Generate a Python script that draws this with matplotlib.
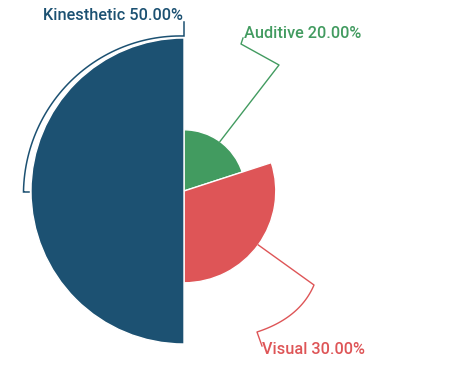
import numpy as np
import matplotlib
matplotlib.use("Agg")
import matplotlib.pyplot as plt

categories = ["Kinesthetic", "Auditive", "Visual"]
values = [50.0, 20.0, 30.0]
colors = ["#1c5172", "#429b60", "#de5557"]
labels = [f"{c} {v:.2f}%" for c, v in zip(categories, values)]

W, H = 460, 374
fig = plt.figure(figsize=(W / 100, H / 100), dpi=100)

# polar axes: centre at (184,191) px, 50 -> 153 px
cx, cy, half = 184, 191, 170
rmax = 50 * half / 153
axp = fig.add_axes([(cx - half) / W, (H - cy - half) / H, 2 * half / W, 2 * half / H],
                   projection="polar")
axp.set_theta_zero_location("N")
axp.set_theta_direction(-1)
axp.set_ylim(0, rmax)
axp.axis("off")

# Order clockwise from top: Auditive, Visual, Kinesthetic
order = [1, 2, 0]
total = sum(values)
start = 0.0
mids = {}
for i in order:
    w = values[i] / total * 2 * np.pi
    axp.bar(start, values[i], width=w, align="edge", color=colors[i],
            edgecolor="white", linewidth=1.0)
    mids[i] = start + w / 2
    start += w

# overlay in pixel coordinates for label lines and labels
ax = fig.add_axes([0, 0, 1, 1])
ax.set_xlim(0, W)
ax.set_ylim(H, 0)
ax.axis("off")
scale = 153 / 50

def pt(theta, r):
    return cx + r * np.sin(theta), cy - r * np.cos(theta)

font = dict(family=["Roboto", "DejaVu Sans"], fontsize=11.7, fontweight="medium")

# Kinesthetic line (arc around the wedge)
x0, y0 = pt(mids[0], values[0] * scale)
t = np.linspace(np.pi * 1.5, np.pi * 2, 60)
r = np.linspace(160.5, 155, 60)
ax_x = cx + r * np.sin(t)
ax_y = cy - r * np.cos(t)
lx = np.concatenate([[x0 - 2, cx - 160.5], ax_x, [cx, cx]])
ly = np.concatenate([[y0 + 1, y0 + 1], ax_y, [36, 22]])
ax.plot(lx, ly, color=colors[0], lw=1.1, solid_joinstyle="miter")
ax.text(183, 20, labels[0], color=colors[0], ha="right", va="baseline", **font)

# Auditive line
x1, y1 = pt(mids[1], values[1] * scale)
ax.plot([x1, 279, 241, 243], [y1, 65, 44, 38], color=colors[1], lw=1.0)
ax.text(244, 38, labels[1], color=colors[1], ha="left", va="baseline", **font)

# Visual line
x2, y2 = pt(mids[2], values[2] * scale)
s = np.linspace(0, 1, 30)
p0 = np.array([314, 285]); c = np.array([300, 318]); p1 = np.array([257, 332])
bx = (1 - s) ** 2 * p0[0] + 2 * (1 - s) * s * c[0] + s ** 2 * p1[0]
by = (1 - s) ** 2 * p0[1] + 2 * (1 - s) * s * c[1] + s ** 2 * p1[1]
ax.plot(np.concatenate([[x2], bx, [262]]), np.concatenate([[y2], by, [346]]),
        color=colors[2], lw=1.0)
ax.text(262, 354, labels[2], color=colors[2], ha="left", va="baseline", **font)

fig.savefig("out.png", dpi=100)
